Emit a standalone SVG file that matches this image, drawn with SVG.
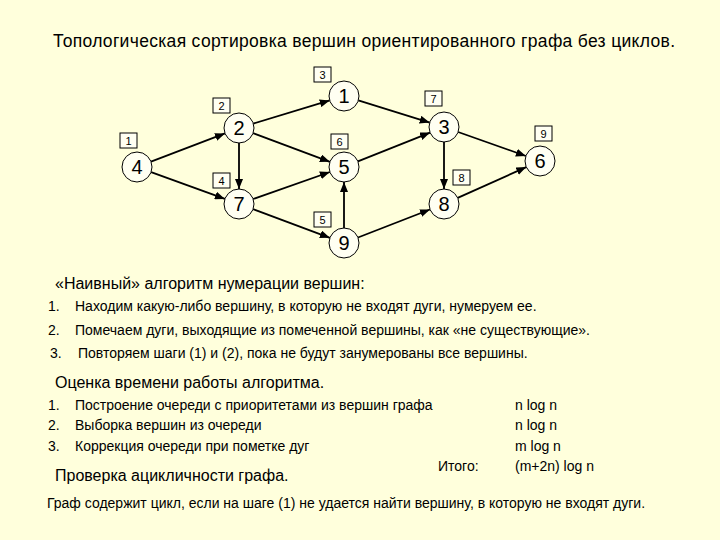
<svg xmlns="http://www.w3.org/2000/svg" width="720" height="540" viewBox="0 0 720 540">
<defs>
<style>
text{font-family:"Liberation Sans",Arial,sans-serif;fill:#000}
.t{font-size:17.5px}
.h{font-size:16px}
.b{font-size:14px}
.nd circle{fill:#FFFFF2;stroke:#000;stroke-width:1}
.nd text{font-size:20px;text-anchor:middle}
.lb rect{fill:#FFFFF2;stroke:#000;stroke-width:1}
.lb text{font-size:11px;text-anchor:middle}
#edges line{stroke:#000;stroke-width:1.8;marker-end:url(#arr)}
</style>
<marker id="arr" markerUnits="userSpaceOnUse" markerWidth="10" markerHeight="8" refX="10" refY="4" orient="auto">
<path d="M0,0 L10,4 L0,8 z" fill="#000"/>
</marker>
</defs>
<rect width="720" height="540" fill="#FFFFDC"/>
<text class="t" x="53" y="47" textLength="622" lengthAdjust="spacing">Топологическая сортировка вершин ориентированного графа без циклов.</text>

<g id="edges">
<line x1="151" y1="161.6" x2="225" y2="133.4"/>
<line x1="151.1" y1="172.1" x2="224.9" y2="198.9"/>
<line x1="253.3" y1="123.6" x2="329.7" y2="100.4"/>
<line x1="253.1" y1="133.2" x2="329.9" y2="161.8"/>
<line x1="239" y1="143" x2="239" y2="189"/>
<line x1="358.3" y1="100.4" x2="429.7" y2="122.6"/>
<line x1="253.1" y1="199" x2="329.9" y2="172"/>
<line x1="253.1" y1="209.2" x2="329.9" y2="237.8"/>
<line x1="357.9" y1="161.4" x2="430.1" y2="132.6"/>
<line x1="344" y1="228" x2="344" y2="182"/>
<line x1="358" y1="237.5" x2="430" y2="209.5"/>
<line x1="458.1" y1="132" x2="525.9" y2="156"/>
<line x1="444" y1="142" x2="444" y2="189"/>
<line x1="457.7" y1="197.9" x2="526.3" y2="167.1"/>
</g>

<g id="node4" class="nd"><circle cx="137" cy="167" r="15"/><text x="137" y="174">4</text></g>
<g id="node2" class="nd"><circle cx="239" cy="128" r="15"/><text x="239" y="135">2</text></g>
<g id="node1" class="nd"><circle cx="344" cy="96" r="15"/><text x="344" y="103">1</text></g>
<g id="node5" class="nd"><circle cx="344" cy="167" r="15"/><text x="344" y="174">5</text></g>
<g id="node7" class="nd"><circle cx="239" cy="204" r="15"/><text x="239" y="211">7</text></g>
<g id="node9" class="nd"><circle cx="344" cy="243" r="15"/><text x="344" y="250">9</text></g>
<g id="node3" class="nd"><circle cx="444" cy="127" r="15"/><text x="444" y="134">3</text></g>
<g id="node6" class="nd"><circle cx="540" cy="161" r="15"/><text x="540" y="168">6</text></g>
<g id="node8" class="nd"><circle cx="444" cy="204" r="15"/><text x="444" y="211">8</text></g>

<g id="label3" class="lb"><rect x="314" y="67" width="17" height="15"/><text x="322.5" y="79">3</text></g>
<g id="label2" class="lb"><rect x="213" y="98" width="17" height="15"/><text x="221.5" y="110">2</text></g>
<g id="label1" class="lb"><rect x="120" y="133" width="17" height="15"/><text x="128.5" y="145">1</text></g>
<g id="label6" class="lb"><rect x="331" y="134" width="17" height="15"/><text x="339.5" y="146">6</text></g>
<g id="label4" class="lb"><rect x="213" y="173" width="17" height="15"/><text x="221.5" y="185">4</text></g>
<g id="label5" class="lb"><rect x="314" y="212" width="17" height="15"/><text x="322.5" y="224">5</text></g>
<g id="label7" class="lb"><rect x="425" y="91" width="17" height="15"/><text x="433.5" y="103">7</text></g>
<g id="label9" class="lb"><rect x="535" y="126" width="17" height="15"/><text x="543.5" y="138">9</text></g>
<g id="label8" class="lb"><rect x="453" y="170" width="17" height="15"/><text x="461.5" y="182">8</text></g>

<text class="h" x="55" y="289">«Наивный» алгоритм нумерации вершин:</text>
<text class="b" x="48" y="311">1.</text>
<text class="b" x="75" y="311">Находим какую-либо вершину, в которую не входят дуги, нумеруем ее.</text>
<text class="b" x="48" y="335">2.</text>
<text class="b" x="75" y="335">Помечаем дуги, выходящие из помеченной вершины, как «не существующие».</text>
<text class="b" x="50" y="358">3.</text>
<text class="b" x="78" y="358">Повторяем шаги (1) и (2), пока не будут занумерованы все вершины.</text>

<text class="h" x="55" y="388">Оценка времени работы алгоритма.</text>
<text class="b" x="48" y="410">1.</text>
<text class="b" x="75" y="410">Построение очереди с приоритетами из вершин графа</text>
<text class="b" x="48" y="430">2.</text>
<text class="b" x="75" y="430">Выборка вершин из очереди</text>
<text class="b" x="48" y="451">3.</text>
<text class="b" x="75" y="451">Коррекция очереди при пометке дуг</text>
<text class="b" x="515" y="410">n log n</text>
<text class="b" x="515" y="430">n log n</text>
<text class="b" x="515" y="451">m log n</text>
<text class="b" x="438" y="471">Итого:</text>
<text class="b" x="515" y="471">(m+2n) log n</text>

<text class="h" x="55" y="481">Проверка ацикличности графа.</text>
<text class="b" x="47" y="508">Граф содержит цикл, если на шаге (1) не удается найти вершину, в которую не входят дуги.</text>
</svg>
